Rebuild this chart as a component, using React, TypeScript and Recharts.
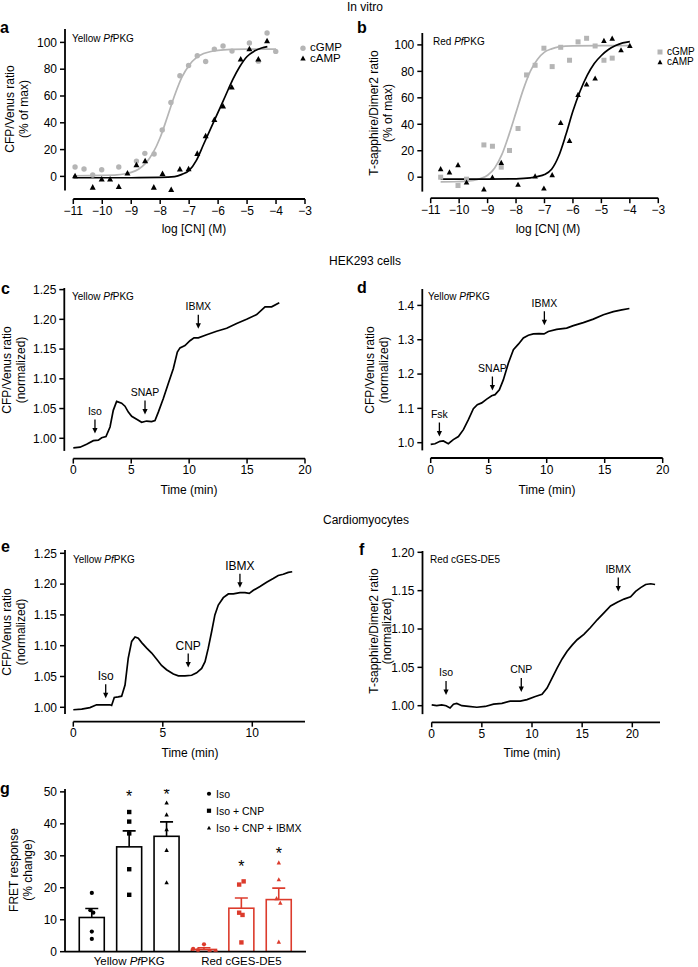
import React from 'react';
import { ComposedChart, Line, Scatter, Bar, XAxis, YAxis, ReferenceLine } from 'recharts';

const FONT = 'Arial, "Liberation Sans", Helvetica, sans-serif';
const INK = '#000000';
const GREY = '#b5b5b5';
const RED = '#dc3b2c';

// a - Yellow PfPKG, in vitro
const aCgmpLog = [-10.94, -10.63, -10.33, -10.02, -9.43, -8.82, -8.53, -8.21, -7.93, -7.63, -7.32, -7.02, -6.72, -6.43, -6.13, -5.83, -5.52, -4.92, -4.61, -4.31, -4.01];
const aCgmpResp = [7.0, 5.5, 1.0, 5.0, 7.0, 11.4, 17.2, 16.7, 34.6, 55.2, 75.1, 82.8, 90.0, 85.8, 95.0, 97.3, 93.5, 99.5, 86.0, 107.0, 93.3];
const aCampLog = [-10.94, -10.33, -10.02, -9.73, -9.43, -9.13, -8.82, -8.52, -8.22, -7.92, -7.62, -7.32, -7.02, -6.72, -6.43, -6.13, -5.83, -5.53, -5.22, -4.92, -4.61, -4.31];
const aCampResp = [0.5, -8.0, -2.0, -2.0, -7.5, 2.5, 8.7, 11.7, -8.0, 2.2, -9.7, 5.5, 5.7, 17.2, 30.3, 42.5, 52.5, 66.7, 87.6, 95.3, 87.6, 101.2];
const aCgmpFitLog = [-11, -10, -9.5, -9.25, -9, -8.75, -8.5, -8.25, -8, -7.75, -7.5, -7.25, -7, -6.75, -6.5, -6.25, -6, -5.5, -5, -4.5, -4];
const aCgmpFit = [0.5, 0.8, 1.2, 1.8, 3.0, 5.4, 9.9, 17.5, 29, 44.5, 60.5, 74, 83, 88.6, 91.7, 93.2, 94.1, 94.8, 95, 95, 95];
const aCampFitLog = [-11, -10, -9, -8, -7.5, -7.25, -7, -6.75, -6.5, -6.25, -6, -5.75, -5.5, -5.25, -5, -4.75, -4.5, -4.3];
const aCampFit = [-1, -1, -1, -0.8, -0.2, 1.5, 4.5, 12, 24, 36, 48, 60, 72, 82, 89.5, 93.5, 95.8, 96.8];

// b - Red PfPKG, in vitro
const bCgmpLog = [-10.65, -10.04, -9.74, -9.13, -8.83, -8.52, -8.23, -7.93, -7.63, -7.33, -7.02, -6.73, -6.43, -6.12, -5.82, -5.52, -5.22, -4.91, -4.62];
const bCgmpResp = [0, -6.3, -1.5, 24.4, 23.4, 7.6, 20.2, 36.8, 77.3, 84.6, 97.5, 83.6, 98.2, 88.4, 102.3, 105, 99.2, 88.4, 90];
const bCampLog = [-10.65, -10.34, -10.04, -9.74, -9.13, -8.83, -8.52, -7.93, -7.33, -7.02, -6.73, -6.43, -6.12, -5.82, -5.52, -5.22, -4.91, -4.62, -4.31, -4.0];
const bCampResp = [6.3, 3.8, 9.3, -3.8, -9, 0, 11.1, -5.5, 0.8, -8.3, 1.8, 41.3, 27.7, 62.5, 70.3, 74.8, 103.3, 105, 96.2, 99.5];
const bCgmpFitLog = [-10.65, -10, -9.5, -9.25, -9, -8.75, -8.5, -8.25, -8, -7.75, -7.5, -7.25, -7, -6.75, -6.5, -6, -5, -4];
const bCgmpFit = [-3.5, -3.4, -2.5, -1, 1.5, 7, 17, 32, 49, 66, 80, 89, 94.5, 97, 98.5, 99.3, 99.5, 99.5];
const bCampFitLog = [-10.65, -10, -9, -8, -7.5, -7.25, -7, -6.75, -6.5, -6.25, -6, -5.75, -5.5, -5.25, -5, -4.75, -4.5, -4.25, -4];
const bCampFit = [-1.5, -1.5, -1.4, -1.2, -0.5, 0.5, 2, 6, 16, 32, 50, 65, 77, 86, 92, 96.5, 99.5, 101.5, 102.5];

const logTicks = [-11, -10, -9, -8, -7, -6, -5, -4, -3];
const pctTicks = [0, 20, 40, 60, 80, 100];
const keyLabels = ['cGMP', 'cAMP'];

// c - HEK293, Yellow PfPKG (Iso, SNAP, IBMX)
const cTime = [0, 0.58, 1.15, 1.73, 2.16, 2.45, 2.82, 3.17, 3.45, 3.74, 4.17, 4.46, 4.75, 5.04, 5.47, 5.9, 6.33, 6.76, 7.05, 7.34, 7.77, 8.2, 8.63, 8.98, 9.21, 9.64, 10.07, 10.42, 10.79, 11.51, 12.37, 13.24, 14.1, 14.96, 15.83, 16.55, 17.12, 17.78];
const cRatio = [0.984, 0.985, 0.99, 0.996, 0.997, 1.001, 1.003, 1.019, 1.047, 1.062, 1.059, 1.054, 1.044, 1.037, 1.032, 1.027, 1.029, 1.028, 1.03, 1.044, 1.067, 1.092, 1.117, 1.145, 1.152, 1.156, 1.164, 1.169, 1.169, 1.174, 1.18, 1.185, 1.193, 1.2, 1.208, 1.221, 1.221, 1.228];
const cDrug = ['Iso', 'SNAP', 'IBMX'];
const cDrugTime = [1.87, 6.19, 10.79];
const cDrugLevel = [1.008, 1.04, 1.184];

// d - HEK293, Yellow PfPKG (Fsk, SNAP, IBMX)
const dTime = [0, 0.37, 0.8, 1.09, 1.52, 1.95, 2.39, 2.82, 3.25, 3.68, 4.02, 4.4, 4.83, 5.26, 5.55, 5.92, 6.26, 6.7, 7.13, 7.56, 7.99, 8.42, 8.85, 9.34, 9.77, 10.14, 10.86, 11.72, 12.3, 13.16, 14.02, 14.89, 15.75, 16.47, 17.13];
const dRatio = [0.995, 0.997, 1.004, 1.005, 0.997, 1.009, 1.018, 1.038, 1.067, 1.099, 1.111, 1.116, 1.127, 1.137, 1.14, 1.154, 1.183, 1.232, 1.271, 1.287, 1.305, 1.313, 1.317, 1.318, 1.317, 1.324, 1.33, 1.334, 1.341, 1.35, 1.36, 1.373, 1.382, 1.387, 1.391];
const dDrug = ['Fsk', 'SNAP', 'IBMX'];
const dDrugTime = [0.75, 5.32, 9.8];
const dDrugLevel = [1.018, 1.152, 1.342];

// e - cardiomyocytes, Yellow PfPKG
const eTime = [0, 0.47, 0.93, 1.3, 1.68, 2.05, 2.14, 2.29, 2.51, 2.7, 2.89, 3.07, 3.26, 3.45, 3.63, 3.82, 4.1, 4.38, 4.66, 4.93, 5.21, 5.59, 5.87, 6.24, 6.61, 6.89, 7.17, 7.36, 7.54, 7.73, 7.91, 8.1, 8.38, 8.66, 8.94, 9.31, 9.59, 9.83, 10.06, 10.43, 10.8, 11.17, 11.45, 11.73, 12.01, 12.23];
const eRatio = [0.996, 0.997, 0.9995, 1.004, 1.004, 1.004, 1.003, 1.016, 1.017, 1.018, 1.036, 1.08, 1.107, 1.114, 1.112, 1.105, 1.096, 1.088, 1.078, 1.068, 1.061, 1.054, 1.051, 1.051, 1.052, 1.056, 1.063, 1.074, 1.096, 1.123, 1.15, 1.166, 1.178, 1.184, 1.184, 1.186, 1.186, 1.185, 1.19, 1.196, 1.203, 1.209, 1.214, 1.216, 1.219, 1.22];
const eDrug = ['Iso', 'CNP', 'IBMX'];
const eDrugTime = [1.81, 6.42, 9.31];
const eDrugLevel = [1.0146, 1.0644, 1.194];

// f - cardiomyocytes, Red cGES-DE5
const fTime = [0, 0.5, 1.0, 1.43, 1.83, 2.17, 2.5, 3.0, 3.67, 4.5, 5.33, 6.17, 7.0, 7.83, 8.83, 9.5, 10.33, 11.0, 11.5, 12.0, 12.5, 13.0, 13.5, 14.0, 14.5, 15.17, 15.83, 16.5, 17.17, 17.83, 18.5, 19.17, 19.83, 20.33, 20.83, 21.33, 21.83, 22.27];
const fRatio = [1.001, 1.0, 1.001, 1.0, 0.997, 1.002, 1.003, 1.0, 0.999, 0.998, 0.999, 1.002, 1.003, 1.006, 1.006, 1.008, 1.012, 1.015, 1.023, 1.036, 1.049, 1.061, 1.071, 1.079, 1.086, 1.093, 1.102, 1.112, 1.121, 1.13, 1.135, 1.139, 1.142, 1.149, 1.154, 1.158, 1.159, 1.158];
const fDrug = ['Iso', 'CNP', 'IBMX'];
const fDrugTime = [1.43, 8.93, 18.6];
const fDrugLevel = [1.014, 1.018, 1.149];

// g - FRET responses, mean + SEM with individual cells
const gBarPos = [1, 2, 3, 4, 5, 6];
const gMean = [10.7, 32.8, 36.1, 0.7, 13.6, 16.3];
const gSem = [2.8, 5.0, 4.5, 0.55, 3.2, 3.6];
const gSensor = ['yellow', 'yellow', 'yellow', 'red', 'red', 'red'];
const gGroupTickPos = [2, 5];
const gGroupNames = ['Yellow PfPKG', 'Red cGES-DE5'];
const gYellowIsoX = [1, 0.96, 1.04, 1, 1];
const gYellowIso = [18.4, 13.0, 12.2, 6.3, 4.0];
const gYellowCnpX = [2, 2, 2, 2, 2];
const gYellowCnp = [43.7, 40.7, 37.0, 25.8, 17.8];
const gYellowIbmxX = [3, 3, 3, 3, 3];
const gYellowIbmx = [46.6, 42.9, 38.3, 31.8, 21.7];
const gRedIsoX = [3.71, 3.84, 4.0, 4.15, 4.31];
const gRedIso = [0.9, 0.5, 2.3, 0.3, 0.0];
const gRedCnpX = [4.94, 5.06, 4.94, 5.03, 5];
const gRedCnp = [21.0, 22.0, 12.2, 11.5, 2.9];
const gRedIbmxX = [6, 6, 5.94, 6.04, 6];
const gRedIbmx = [27.9, 22.6, 16.7, 15.3, 3.1];
const gStarX = [2, 3, 5, 6];
const gStarY = [49.5, 50.3, 27.7, 31.7];
const gKeyLabels = ['Iso', 'Iso + CNP', 'Iso + CNP + IBMX'];

const pts = (xs: number[], ys: number[]) => xs.map((x, i) => ({ x, y: ys[i] }));
const drugs = (names: string[], ts: number[], vs: number[]) =>
  names.map((label, i) => ({ x: ts[i], y: vs[i], label }));
const signed = (v: number) => (v < 0 ? `\u2212${Math.abs(v)}` : `${v}`);
const two = (v: number) => v.toFixed(2);
const one = (v: number) => v.toFixed(1);

const Sym = ({ kind, color, s }: { kind: string; color: string; s: number }) => {
  const h = s / 2;
  if (kind === 'circle') return <circle cx={0} cy={0} r={h} fill={color} />;
  if (kind === 'square') return <rect x={-h} y={-h} width={s} height={s} fill={color} />;
  return <polygon points={`${-h},${h * 0.85} ${h},${h * 0.85} 0,${-h}`} fill={color} />;
};

const dotShape = (kind: string, color: string, s: number) => (p: any) => (
  <g transform={`translate(${p.cx},${p.cy})`}>
    <Sym kind={kind} color={color} s={s} />
  </g>
);

// arrow pointing down at the trace with the drug name above it
const arrowShape = (size: number) => (p: any) => {
  const { cx, cy } = p;
  return (
    <g>
      <line x1={cx} y1={cy - 14} x2={cx} y2={cy - 4} stroke={INK} strokeWidth={1.3} />
      <polygon points={`${cx - 2.6},${cy - 5.5} ${cx + 2.6},${cy - 5.5} ${cx},${cy}`} fill={INK} />
      <text x={cx} y={cy - 22} textAnchor="middle" dominantBaseline="central" fontSize={size} fill={INK}>
        {p.payload?.label}
      </text>
    </g>
  );
};

const starShape = (p: any) => (
  <text x={p.cx} y={p.cy + 9} textAnchor="middle" fontSize={16} fill={INK}>
    *
  </text>
);

const PfLabel = ({ text }: { text: string }) => {
  const i = text.indexOf('Pf');
  if (i < 0) return <>{text}</>;
  return (
    <>
      {text.slice(0, i)}
      <i>Pf</i>
      {text.slice(i + 2)}
    </>
  );
};

function Txt({ x, y, size = 12, bold = false, left = false, rot = false, children }: any) {
  return (
    <div
      style={{
        position: 'absolute',
        left: x,
        top: y,
        fontSize: size,
        fontWeight: bold ? 700 : 400,
        lineHeight: 1,
        whiteSpace: 'nowrap',
        transform: `translate(${left ? '0' : '-50%'}, -50%)${rot ? ' rotate(-90deg)' : ''}`,
      }}
    >
      {children}
    </div>
  );
}

function Key({ x, y, gap, size, s, kinds, colors, labels }: any) {
  return (
    <>
      {labels.map((label: string, i: number) => (
        <div
          key={label}
          style={{
            position: 'absolute',
            left: x - 4,
            top: y + i * gap,
            transform: 'translateY(-50%)',
            display: 'flex',
            alignItems: 'center',
            fontSize: size,
            lineHeight: 1,
            whiteSpace: 'nowrap',
          }}
        >
          <svg width={8} height={8} viewBox="-4 -4 8 8" style={{ marginRight: 3 }}>
            <Sym kind={kinds[i]} color={colors[i]} s={s} />
          </svg>
          {label}
        </div>
      ))}
    </>
  );
}

const YW = 50;
const MT = 6;
const XH = 30;

type FrameProps = {
  cx: number;
  plot: number[];
  mr?: number;
  xDomain: [number, number];
  yDomain: [number, number];
  xTicks: number[];
  yTicks: number[];
  xLine: [number, number];
  yLine: [number, number];
  xFmt?: (v: number) => string;
  yFmt?: (v: number) => string;
  children?: React.ReactNode;
};

// Prism-style frame: detached x and y axis lines
function Frame({ cx, plot, mr = 10, xDomain, yDomain, xTicks, yTicks, xLine, yLine, xFmt, yFmt, children }: FrameProps) {
  const [x0, y0, x1, y1] = plot;
  const tickLine = { stroke: INK, strokeWidth: 1.5 };
  return (
    <div style={{ position: 'absolute', left: cx, top: y0 - MT }}>
      <ComposedChart
        width={x1 - cx + mr}
        height={y1 - y0 + MT + XH}
        margin={{ top: MT, right: mr, bottom: 0, left: x0 - cx - YW }}
      >
        <XAxis
          type="number"
          dataKey="x"
          domain={xDomain}
          ticks={xTicks}
          interval={0}
          allowDataOverflow
          axisLine={false}
          tickLine={tickLine}
          tickSize={5}
          tickMargin={2}
          tick={{ fill: INK, fontSize: 12 }}
          tickFormatter={xFmt}
          height={XH}
        />
        <YAxis
          type="number"
          dataKey="y"
          domain={yDomain}
          ticks={yTicks}
          interval={0}
          allowDataOverflow
          axisLine={false}
          tickLine={tickLine}
          tickSize={5}
          tickMargin={3}
          tick={{ fill: INK, fontSize: 12 }}
          tickFormatter={yFmt}
          width={YW}
        />
        <ReferenceLine
          segment={[{ x: xLine[0], y: yDomain[0] }, { x: xLine[1], y: yDomain[0] }]}
          stroke={INK}
          strokeWidth={1.8}
          ifOverflow="visible"
        />
        <ReferenceLine
          segment={[{ x: xDomain[0], y: yLine[0] }, { x: xDomain[0], y: yLine[1] }]}
          stroke={INK}
          strokeWidth={1.8}
          ifOverflow="visible"
        />
        {children}
      </ComposedChart>
    </div>
  );
}

const fitLine = (data: any[], color: string) => (
  <Line
    data={data}
    dataKey="y"
    type="monotone"
    stroke={color}
    strokeWidth={1.7}
    dot={false}
    activeDot={false}
    isAnimationActive={false}
  />
);

const traceLine = (data: any[]) => (
  <Line
    data={data}
    dataKey="y"
    type="linear"
    stroke={INK}
    strokeWidth={1.7}
    dot={false}
    activeDot={false}
    isAnimationActive={false}
  />
);

const BAR_W = 25;

// open bar plus upper SEM whisker; SEM length taken from the bar's own px-per-unit
const BarShape = (p: any) => {
  const { x, y, width, height, payload } = p;
  const color = payload.sensor === 'red' ? RED : INK;
  const perUnit = payload.y > 0 ? height / payload.y : 0;
  const top = y - payload.sem * perUnit;
  const mid = x + width / 2;
  return (
    <g>
      <rect x={mid - BAR_W / 2} y={y} width={BAR_W} height={height} fill="#fff" stroke={color} strokeWidth={1.6} />
      <line x1={mid} y1={y} x2={mid} y2={top} stroke={color} strokeWidth={1.6} />
      <line x1={mid - 6.5} y1={top} x2={mid + 6.5} y2={top} stroke={color} strokeWidth={1.6} />
    </g>
  );
};

const GroupTick = (p: any) => {
  const i = gGroupTickPos.indexOf(p.payload.value);
  const name = gGroupNames[i] || '';
  const k = name.indexOf('Pf');
  return (
    <text x={p.x} y={p.y} dy="0.71em" textAnchor="middle" fontSize={11.5} fill={INK}>
      {k < 0 ? (
        name
      ) : (
        <>
          <tspan>{name.slice(0, k)}</tspan>
          <tspan fontStyle="italic">Pf</tspan>
          <tspan>{name.slice(k + 2)}</tspan>
        </>
      )}
    </text>
  );
};

function PanelG() {
  const rows = gBarPos.map((x, i) => ({ x, y: gMean[i], sem: gSem[i], sensor: gSensor[i] }));
  const plotTop = 789;
  const plotBottom = 951.7;
  const XHG = 15;
  const axis = { stroke: INK, strokeWidth: 1.8 };
  return (
    <div style={{ position: 'absolute', left: 0, top: plotTop - MT }}>
      <ComposedChart
        width={316}
        height={plotBottom - plotTop + MT + XHG}
        data={rows}
        margin={{ top: MT, right: 10, bottom: 0, left: 65 - YW }}
      >
        <XAxis
          type="number"
          dataKey="x"
          domain={[0.283, 6.727]}
          ticks={gGroupTickPos}
          interval={0}
          allowDataOverflow
          axisLine={axis}
          tickLine={false}
          tickSize={3}
          tickMargin={2}
          tick={<GroupTick />}
          height={XHG}
        />
        <YAxis
          type="number"
          dataKey="y"
          domain={[0, 50.9]}
          ticks={[0, 10, 20, 30, 40, 50]}
          interval={0}
          allowDataOverflow
          axisLine={axis}
          tickLine={{ stroke: INK, strokeWidth: 1.5 }}
          tickSize={5}
          tickMargin={3}
          tick={{ fill: INK, fontSize: 12 }}
          width={YW}
        />
        <Bar dataKey="y" barSize={BAR_W} shape={BarShape} isAnimationActive={false} />
        <Scatter data={pts(gYellowIsoX, gYellowIso)} shape={dotShape('circle', INK, 4.2)} isAnimationActive={false} />
        <Scatter data={pts(gYellowCnpX, gYellowCnp)} shape={dotShape('square', INK, 4.4)} isAnimationActive={false} />
        <Scatter data={pts(gYellowIbmxX, gYellowIbmx)} shape={dotShape('triangle', INK, 4.4)} isAnimationActive={false} />
        <Scatter data={pts(gRedIsoX, gRedIso)} shape={dotShape('circle', RED, 4.2)} isAnimationActive={false} />
        <Scatter data={pts(gRedCnpX, gRedCnp)} shape={dotShape('square', RED, 4.4)} isAnimationActive={false} />
        <Scatter data={pts(gRedIbmxX, gRedIbmx)} shape={dotShape('triangle', RED, 4.4)} isAnimationActive={false} />
        <Scatter data={pts(gStarX, gStarY)} shape={starShape} isAnimationActive={false} />
      </ComposedChart>
    </div>
  );
}

export default function App() {
  return (
    <div
      style={{
        position: 'absolute',
        left: 0,
        top: 0,
        width: 698,
        height: 967,
        overflow: 'hidden',
        background: '#fff',
        fontFamily: FONT,
        color: INK,
      }}
    >
      {/* a */}
      <Frame
        cx={0}
        plot={[65, 29.3, 305, 199.3]}
        xDomain={[-11.287, -3]}
        yDomain={[-16.87, 110]}
        xTicks={logTicks}
        yTicks={pctTicks}
        xLine={[-11, -3]}
        yLine={[-10.5, 110]}
        xFmt={signed}
      >
        {fitLine(pts(aCgmpFitLog, aCgmpFit), GREY)}
        {fitLine(pts(aCampFitLog, aCampFit), INK)}
        <Scatter data={pts(aCgmpLog, aCgmpResp)} shape={dotShape('circle', GREY, 5.4)} isAnimationActive={false} />
        <Scatter data={pts(aCampLog, aCampResp)} shape={dotShape('triangle', INK, 6)} isAnimationActive={false} />
      </Frame>

      {/* b */}
      <Frame
        cx={340}
        plot={[422.3, 33.1, 658.3, 198.3]}
        xDomain={[-11.295, -3]}
        yDomain={[-15.87, 109]}
        xTicks={logTicks}
        yTicks={pctTicks}
        xLine={[-11, -3]}
        yLine={[-10.9, 109]}
        xFmt={signed}
      >
        {fitLine(pts(bCgmpFitLog, bCgmpFit), GREY)}
        {fitLine(pts(bCampFitLog, bCampFit), INK)}
        <Scatter data={pts(bCgmpLog, bCgmpResp)} shape={dotShape('square', GREY, 5)} isAnimationActive={false} />
        <Scatter data={pts(bCampLog, bCampResp)} shape={dotShape('triangle', INK, 5.6)} isAnimationActive={false} />
      </Frame>

      {/* c */}
      <Frame
        cx={0}
        plot={[64.3, 287.7, 305, 458.3]}
        xDomain={[-0.777, 20]}
        yDomain={[0.96587, 1.2527]}
        xTicks={[0, 5, 10, 15, 20]}
        yTicks={[1.0, 1.05, 1.1, 1.15, 1.2, 1.25]}
        xLine={[0, 20]}
        yLine={[0.9788, 1.2527]}
        yFmt={two}
      >
        {traceLine(pts(cTime, cRatio))}
        <Scatter data={drugs(cDrug, cDrugTime, cDrugLevel)} shape={arrowShape(10.5)} isAnimationActive={false} />
      </Frame>

      {/* d */}
      <Frame
        cx={340}
        plot={[422.3, 289.3, 662.7, 458.3]}
        xDomain={[-0.724, 20]}
        yDomain={[0.95543, 1.4478]}
        xTicks={[0, 5, 10, 15, 20]}
        yTicks={[1.0, 1.1, 1.2, 1.3, 1.4]}
        xLine={[0, 20]}
        yLine={[0.9776, 1.4478]}
        yFmt={one}
      >
        {traceLine(pts(dTime, dRatio))}
        <Scatter data={drugs(dDrug, dDrugTime, dDrugLevel)} shape={arrowShape(10.5)} isAnimationActive={false} />
      </Frame>

      {/* e */}
      <Frame
        cx={0}
        plot={[65, 550, 305, 721.7]}
        xDomain={[-0.4637, 12.944]}
        yDomain={[0.97662, 1.25536]}
        xTicks={[0, 5, 10]}
        yTicks={[1.0, 1.05, 1.1, 1.15, 1.2, 1.25]}
        xLine={[0, 12.944]}
        yLine={[0.9891, 1.25536]}
        yFmt={two}
      >
        {traceLine(pts(eTime, eRatio))}
        <Scatter data={drugs(eDrug, eDrugTime, eDrugLevel)} shape={arrowShape(12)} isAnimationActive={false} />
      </Frame>

      {/* f */}
      <Frame
        cx={340}
        plot={[422.5, 551, 660, 722.3]}
        xDomain={[-0.917, 22.76]}
        yDomain={[0.97836, 1.2017]}
        xTicks={[0, 5, 10, 15, 20]}
        yTicks={[1.0, 1.05, 1.1, 1.15, 1.2]}
        xLine={[0, 22.76]}
        yLine={[0.989, 1.2017]}
        yFmt={two}
      >
        {traceLine(pts(fTime, fRatio))}
        <Scatter data={drugs(fDrug, fDrugTime, fDrugLevel)} shape={arrowShape(10.5)} isAnimationActive={false} />
      </Frame>

      <PanelG />

      {/* section headers */}
      <Txt x={365} y={7}>In vitro</Txt>
      <Txt x={365} y={261}>HEK293 cells</Txt>
      <Txt x={366} y={520}>Cardiomyocytes</Txt>

      {/* panel letters */}
      <Txt x={0} y={28} size={16} bold left>a</Txt>
      <Txt x={357} y={28} size={16} bold left>b</Txt>
      <Txt x={1} y={289} size={16} bold left>c</Txt>
      <Txt x={357} y={288} size={16} bold left>d</Txt>
      <Txt x={1} y={547} size={16} bold left>e</Txt>
      <Txt x={359} y={550} size={16} bold left>f</Txt>
      <Txt x={0} y={789} size={16} bold left>g</Txt>

      {/* sensor names inside plots */}
      <Txt x={72} y={39} size={10} left><PfLabel text="Yellow PfPKG" /></Txt>
      <Txt x={433} y={42} size={10} left><PfLabel text="Red PfPKG" /></Txt>
      <Txt x={72} y={297} size={10} left><PfLabel text="Yellow PfPKG" /></Txt>
      <Txt x={428} y={297} size={10} left><PfLabel text="Yellow PfPKG" /></Txt>
      <Txt x={73} y={560} size={10} left><PfLabel text="Yellow PfPKG" /></Txt>
      <Txt x={430} y={560} size={10} left>Red cGES-DE5</Txt>

      {/* legends */}
      <Key x={303} y={48} gap={10.5} size={11.5} s={5.4} kinds={['circle', 'triangle']} colors={[GREY, INK]} labels={keyLabels} />
      <Key x={660} y={51.5} gap={10} size={10} s={5} kinds={['square', 'triangle']} colors={[GREY, INK]} labels={keyLabels} />
      <Key x={209} y={794} gap={17} size={10.5} s={4.2} kinds={['circle', 'square', 'triangle']} colors={[INK, INK, INK]} labels={gKeyLabels} />

      {/* x axis titles */}
      <Txt x={194} y={229}>log [CN] (M)</Txt>
      <Txt x={548} y={229}>log [CN] (M)</Txt>
      <Txt x={189} y={490}>Time (min)</Txt>
      <Txt x={547} y={490}>Time (min)</Txt>
      <Txt x={190} y={753}>Time (min)</Txt>
      <Txt x={532} y={753}>Time (min)</Txt>

      {/* y axis titles */}
      <Txt x={10} y={109} rot>CFP/Venus ratio</Txt>
      <Txt x={23.5} y={109} rot>(% of max)</Txt>
      <Txt x={373.5} y={113} rot>T-sapphire/Dimer2 ratio</Txt>
      <Txt x={387.5} y={113} rot>(% of max)</Txt>
      <Txt x={7} y={370} rot>CFP/Venus ratio</Txt>
      <Txt x={21} y={370} rot>(normalized)</Txt>
      <Txt x={370} y={370} rot>CFP/Venus ratio</Txt>
      <Txt x={383.5} y={370} rot>(normalized)</Txt>
      <Txt x={7} y={632} rot>CFP/Venus ratio</Txt>
      <Txt x={21} y={632} rot>(normalized)</Txt>
      <Txt x={373.5} y={631} rot>T-sapphire/Dimer2 ratio</Txt>
      <Txt x={387} y={631} rot>(normalized)</Txt>
      <Txt x={14} y={870} rot>FRET response</Txt>
      <Txt x={28} y={870} rot>(% change)</Txt>
    </div>
  );
}
